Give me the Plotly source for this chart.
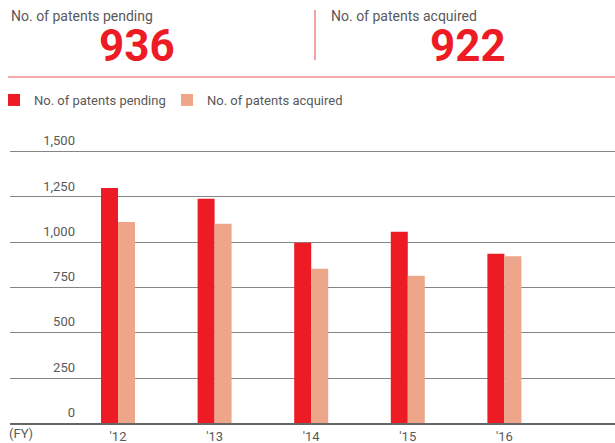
import plotly.graph_objects as go

years = ["'12", "'13", "'14", "'15", "'16"]
pending = [1300, 1240, 997, 1058, 936]
acquired = [1112, 1102, 853, 815, 922]
y_ticks = [0, 250, 500, 750, 1000, 1250, 1500]
y_tick_labels = ["0", "250", "500", "750", "1,000", "1,250", "1,500"]

RED = "#ED1C24"
PEACH = "#EDA68A"
GREY_TXT = "#595959"
FONT = "Roboto, sans-serif"

W, H = 615, 443
def px(x):
    return x / W
def py(y):
    return 1 - y / H

fig = go.Figure()
fig.add_trace(go.Bar(x=list(range(len(years))), y=pending, name="No. of patents pending",
                     marker=dict(color=RED, line=dict(width=0)), legend="legend"))
fig.add_trace(go.Bar(x=list(range(len(years))), y=acquired, name="No. of patents acquired",
                     marker=dict(color=PEACH, line=dict(width=0)), legend="legend2"))

legend_common = dict(orientation="h", yanchor="middle", xanchor="left",
                     font=dict(size=13, color=GREY_TXT, family=FONT),
                     bgcolor="rgba(0,0,0,0)", borderwidth=0, itemsizing="constant")

fig.update_layout(
    width=W, height=H,
    margin=dict(l=0, r=0, t=0, b=0, autoexpand=False),
    paper_bgcolor="white", plot_bgcolor="white",
    barmode="group", bargap=0.648, bargroupgap=0,
    font=dict(family=FONT, color=GREY_TXT, size=13),
    showlegend=True,
    legend=dict(x=px(-6), y=py(100), **legend_common),
    legend2=dict(x=px(167), y=py(100), **legend_common),
    xaxis=dict(domain=[px(10), 1], range=[-1.118, 5.145], automargin=False,
               tickvals=list(range(len(years))), ticktext=years,
               showgrid=False, zeroline=False, showline=True, linecolor="#666666", linewidth=1.5,
               ticks="", tickfont=dict(size=13, color=GREY_TXT)),
    yaxis=dict(domain=[py(423.3), py(130)], range=[0, 1620], automargin=False,
               tickvals=y_ticks, ticktext=y_tick_labels,
               anchor="free", position=px(75), side="left",
               showgrid=True, gridcolor="#858585", gridwidth=1.3,
               zeroline=False, showline=False, ticks="",
               ticklabelshift=-11,
               tickfont=dict(size=13, color=GREY_TXT)),
)

# header
fig.add_annotation(x=px(9), y=py(16), xref="paper", yref="paper", text="No. of patents pending",
                   showarrow=False, xanchor="left", yanchor="middle",
                   font=dict(size=14, color=GREY_TXT, family=FONT))
fig.add_annotation(x=px(329), y=py(16), xref="paper", yref="paper", text="No. of patents acquired",
                   showarrow=False, xanchor="left", yanchor="middle",
                   font=dict(size=14, color=GREY_TXT, family=FONT))
fig.add_annotation(x=px(137), y=py(46), xref="paper", yref="paper", text="<b>%d</b>" % pending[-1],
                   showarrow=False, xanchor="center", yanchor="middle",
                   font=dict(size=44, color=RED, family=FONT))
fig.add_annotation(x=px(468), y=py(46), xref="paper", yref="paper", text="<b>%d</b>" % acquired[-1],
                   showarrow=False, xanchor="center", yanchor="middle",
                   font=dict(size=44, color=RED, family=FONT))
fig.add_annotation(x=px(7), y=py(433), xref="paper", yref="paper", text="(FY)",
                   showarrow=False, xanchor="left", yanchor="middle",
                   font=dict(size=13, color=GREY_TXT, family=FONT))

fig.add_shape(type="line", xref="paper", yref="paper", x0=px(315), x1=px(315), y0=py(10), y1=py(60),
              line=dict(color="#E8666B", width=1.2))
fig.add_shape(type="line", xref="paper", yref="paper", x0=px(8), x1=1, y0=py(77), y1=py(77),
              line=dict(color="#F28C8C", width=1.5))

fig.write_html("out.html", config={"displayModeBar": False},
               post_script="document.body.style.margin='0';document.body.style.padding='0';")
